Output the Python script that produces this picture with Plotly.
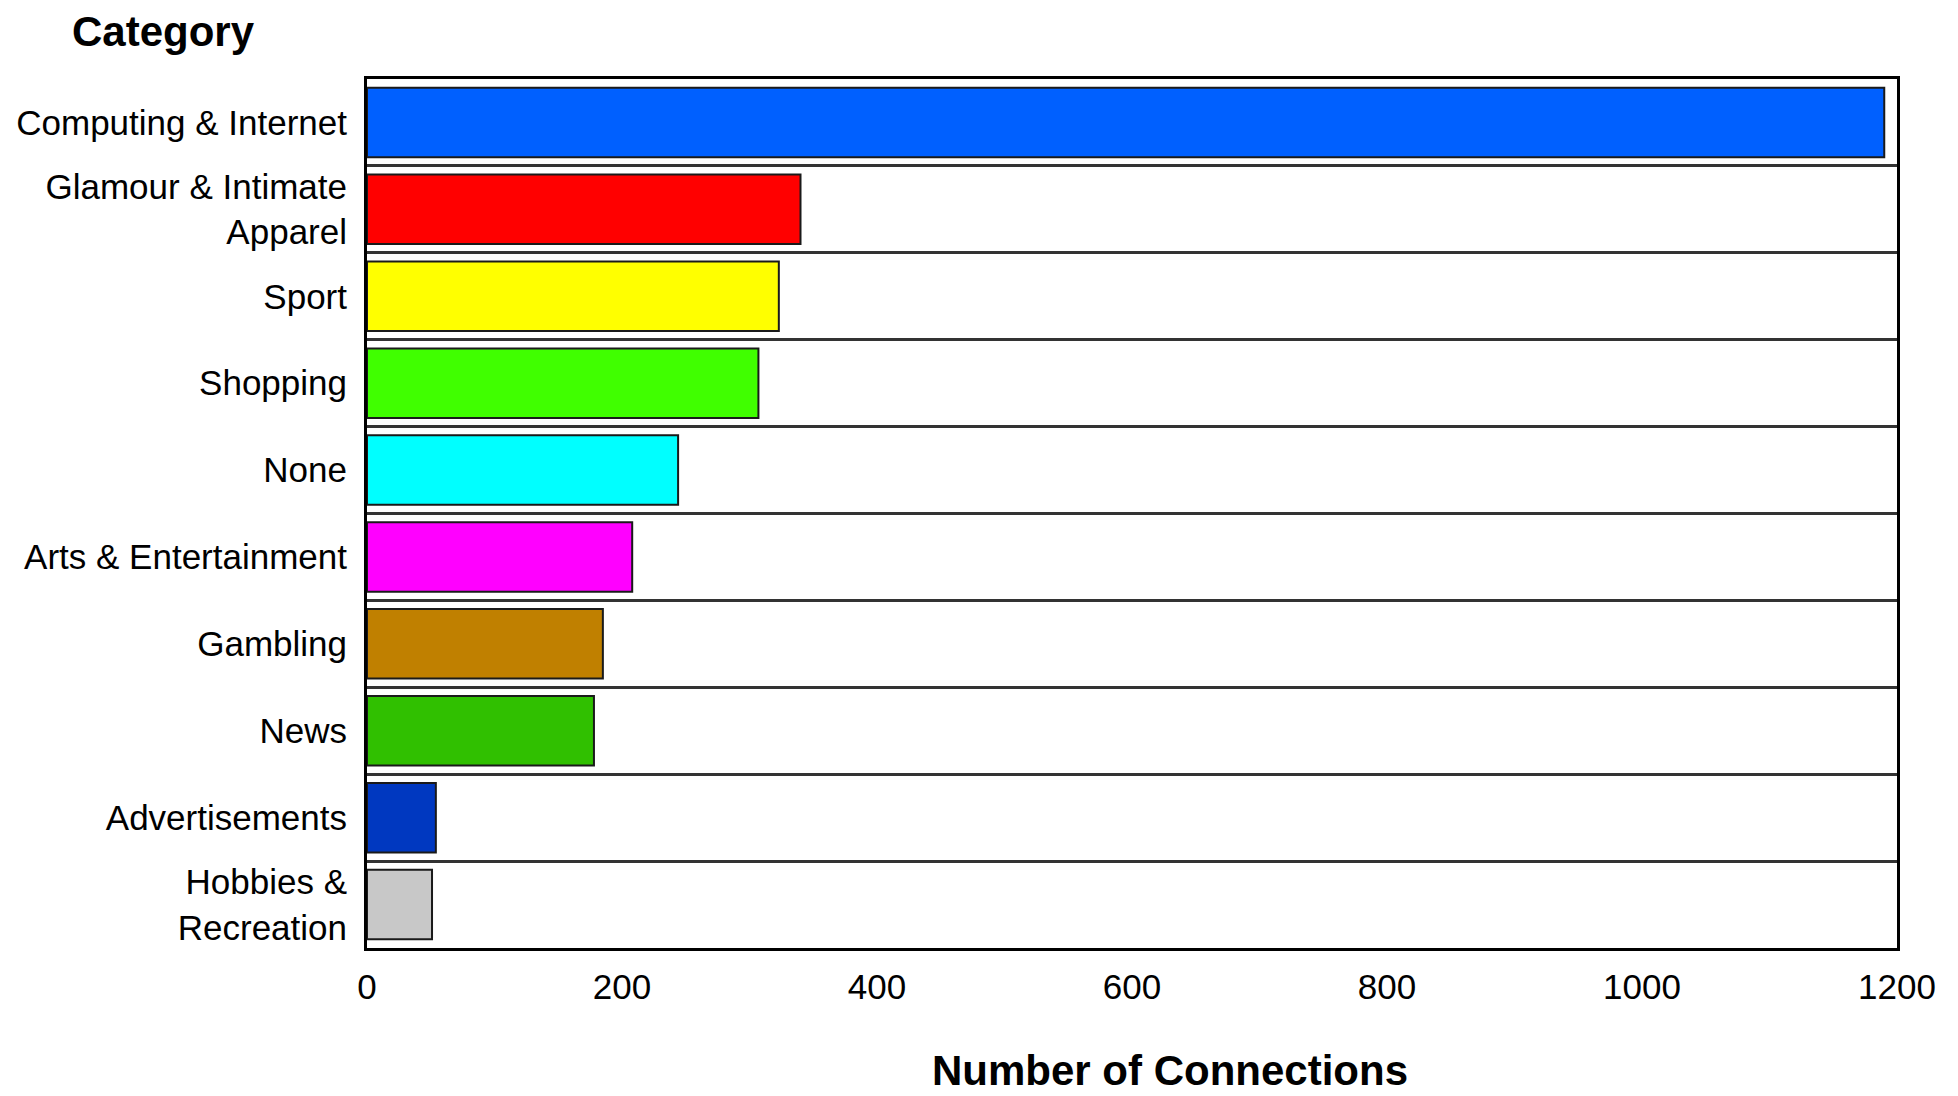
import plotly.graph_objects as go

categories = [
    "Computing & Internet",
    "Glamour & Intimate<br>Apparel",
    "Sport",
    "Shopping",
    "None",
    "Arts & Entertainment",
    "Gambling",
    "News",
    "Advertisements",
    "Hobbies &<br>Recreation",
]
connections = [1190, 340, 323, 307, 244, 208, 185, 178, 54, 51]
bar_colors = [
    "#0060FF", "#FF0000", "#FFFF00", "#40FF00", "#00FFFF",
    "#FF00FF", "#C08000", "#30C000", "#0038C0", "#C8C8C8",
]
x_ticks = [0, 200, 400, 600, 800, 1000, 1200]

FONT = "Liberation Sans, Arial, sans-serif"

fig = go.Figure(
    go.Bar(
        x=connections,
        y=categories,
        orientation="h",
        width=0.8,
        marker=dict(color=bar_colors, line=dict(color="#1a1a1a", width=2)),
        hoverinfo="x+y",
    )
)

fig.update_layout(
    width=1958,
    height=1096,
    margin=dict(l=359, r=69, t=71, b=156, autoexpand=False),
    paper_bgcolor="white",
    plot_bgcolor="white",
    showlegend=False,
    font=dict(family=FONT, size=35, color="black"),
    xaxis=dict(
        range=[0, 1200],
        tickvals=x_ticks,
        ticktext=[str(v) for v in x_ticks],
        showgrid=False,
        zeroline=False,
        showline=True,
        linecolor="black",
        linewidth=3,
        mirror=True,
        ticks="",
        ticklabelstandoff=6,
        tickfont=dict(family=FONT, size=35, color="black"),
    ),
    yaxis=dict(
        categoryorder="array",
        categoryarray=categories,
        autorange="reversed",
        tickson="boundaries",
        showgrid=True,
        gridcolor="#333333",
        gridwidth=2.5,
        zeroline=False,
        showline=True,
        linecolor="black",
        linewidth=3,
        mirror=True,
        ticks="",
        ticklabelstandoff=10,
        tickfont=dict(family=FONT, size=35, color="black"),
    ),
    annotations=[
        dict(
            text="<b>Category</b>",
            xref="paper", yref="paper",
            x=-0.1328, y=1.0552,
            xanchor="center", yanchor="middle",
            showarrow=False,
            font=dict(family=FONT, size=42, color="black"),
        ),
        dict(
            text="<b>Number of Connections</b>",
            xref="paper", yref="paper",
            x=0.525, y=-0.1415,
            xanchor="center", yanchor="middle",
            showarrow=False,
            font=dict(family=FONT, size=42, color="black"),
        ),
    ],
)

fig.write_html("out.html")
